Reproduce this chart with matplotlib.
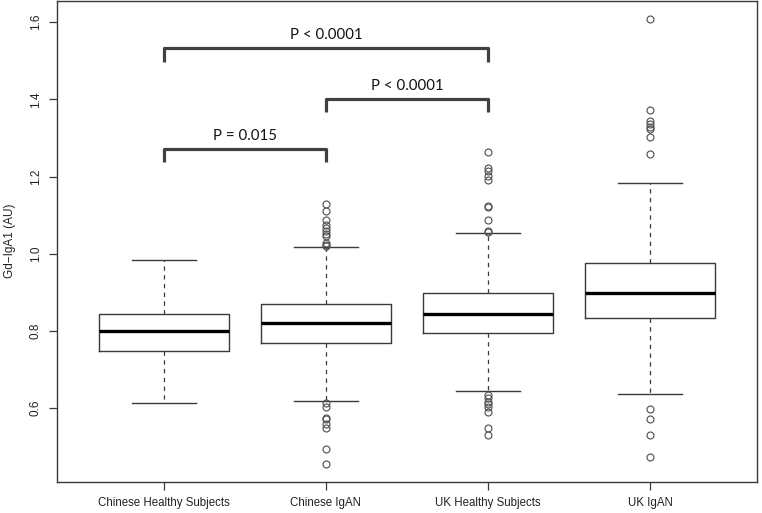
import matplotlib
matplotlib.use("Agg")
import matplotlib.pyplot as plt

# ---- data ----
categories = ["Chinese Healthy Subjects", "Chinese IgAN", "UK Healthy Subjects", "UK IgAN"]
whisker_low = [0.614, 0.619, 0.645, 0.636]
q1 = [0.748, 0.769, 0.794, 0.833]
median = [0.800, 0.822, 0.845, 0.899]
q3 = [0.843, 0.869, 0.899, 0.977]
whisker_high = [0.984, 1.018, 1.055, 1.183]
outliers = [
    [],
    [1.129, 1.110, 1.087, 1.075, 1.068, 1.058, 1.050, 1.045, 1.027, 1.023, 1.020,
     0.614, 0.604, 0.576, 0.572, 0.560, 0.548, 0.494, 0.455],
    [1.263, 1.221, 1.214, 1.202, 1.190, 1.125, 1.120, 1.087, 1.060, 1.057,
     0.634, 0.626, 0.617, 0.611, 0.604, 0.589, 0.549, 0.530],
    [1.609, 1.372, 1.344, 1.335, 1.328, 1.322, 1.303, 1.259,
     0.599, 0.572, 0.531, 0.474],
]
yticks = [0.6, 0.8, 1.0, 1.2, 1.4, 1.6]
ylabel = "Gd\u2212IgA1 (AU)"

# significance brackets: (from group, to group, bracket level, label)
bracket_from = [1, 2, 1]
bracket_to = [2, 3, 3]
bracket_level = [1.271, 1.400, 1.532]
bracket_label = ["P = 0.015", "P < 0.0001", "P < 0.0001"]

# ---- figure ----
fig = plt.figure(figsize=(7.62, 5.13), dpi=100)
ax = fig.add_axes([57 / 762, 31 / 513, 700 / 762, 481.5 / 513])

stats = []
for i in range(len(categories)):
    stats.append(dict(med=median[i], q1=q1[i], q3=q3[i],
                      whislo=whisker_low[i], whishi=whisker_high[i],
                      fliers=outliers[i], label=categories[i]))

edge = "#3a3a3a"
ax.bxp(stats, positions=range(1, 5), widths=0.8, showfliers=True,
       boxprops=dict(color=edge, linewidth=1.0),
       medianprops=dict(color="black", linewidth=2.4, solid_capstyle="butt"),
       whiskerprops=dict(color=edge, linewidth=0.9, linestyle=(0, (3.5, 3.5))),
       capprops=dict(color=edge, linewidth=1.0),
       capwidths=0.4,
       flierprops=dict(marker="o", markerfacecolor="none", markeredgecolor="#555555",
                       markersize=5.0, markeredgewidth=0.85, linestyle="none"))

ax.set_xlim(0.34, 4.66)
ax.set_ylim(0.409, 1.656)

ax.set_yticks(yticks)
ax.set_yticklabels([f"{v:.1f}" for v in yticks], rotation=90, va="center",
                   fontsize=8.5, family="Liberation Sans", color="#222222")
ax.set_xticks(range(1, 5))
ax.set_xticklabels(categories, fontsize=8.3, family="Liberation Sans", color="#222222")
ax.tick_params(axis="both", length=6, width=0.9, color=edge)
ax.tick_params(axis="x", pad=5)
ax.tick_params(axis="y", pad=5)
for s in ax.spines.values():
    s.set_color(edge)
    s.set_linewidth(1.0)

ax.set_ylabel(ylabel, fontsize=8.5, family="Liberation Sans", color="#222222", labelpad=10)

# brackets
drop = 0.034
for a, b, lvl, lab in zip(bracket_from, bracket_to, bracket_level, bracket_label):
    ax.plot([a, a, b, b], [lvl - drop, lvl, lvl, lvl - drop], color="#404040",
            linewidth=2.3, solid_joinstyle="round", solid_capstyle="butt", clip_on=False)
    ax.text((a + b) / 2, lvl + 0.016, lab, ha="center", va="bottom",
            fontsize=10.8, family="Lato", color="#111111")

fig.savefig("out.png", dpi=100)
